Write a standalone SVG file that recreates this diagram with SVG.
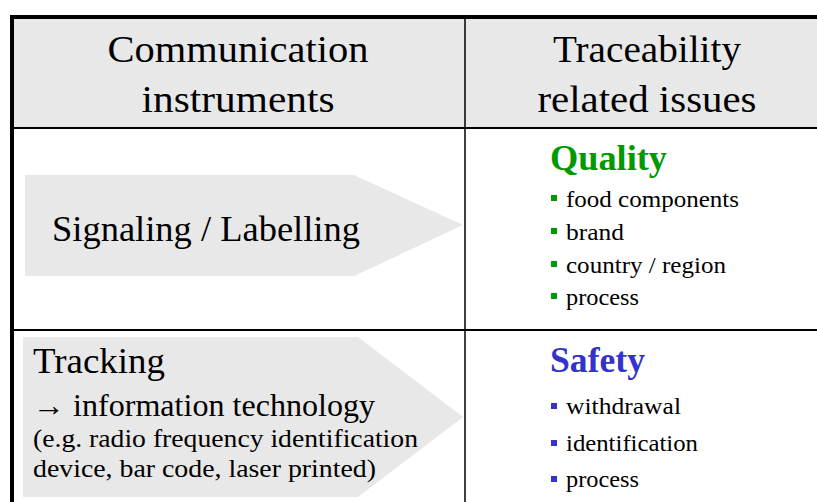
<svg xmlns="http://www.w3.org/2000/svg" width="817" height="502" viewBox="0 0 817 502">
<style>
text{font-family:"Liberation Serif","DejaVu Serif",serif;fill:#000}
.hd{font-size:38px}
.big{font-size:35px}
.it{font-size:23px}
.sh{fill:#e8e8e8}
.ln{stroke:#000;fill:none}
</style>
<rect x="0" y="0" width="817" height="502" fill="#fff"/>
<rect x="12" y="17" width="805" height="111" fill="#e8e8e8"/>
<g id="table">
<line class="ln" x1="10" y1="17" x2="817" y2="17" stroke-width="4"/>
<line class="ln" x1="12" y1="15" x2="12" y2="502" stroke-width="4"/>
<line class="ln" x1="12" y1="128" x2="817" y2="128" stroke-width="2"/>
<line class="ln" x1="12" y1="330" x2="817" y2="330" stroke-width="2"/>
<line class="ln" x1="465" y1="17" x2="465" y2="502" stroke-width="1.5"/>
</g>
<g id="header">
<text class="hd" x="238" y="62" text-anchor="middle" textLength="261" lengthAdjust="spacingAndGlyphs">Communication</text>
<text class="hd" x="238" y="112" text-anchor="middle" textLength="193" lengthAdjust="spacingAndGlyphs">instruments</text>
<text class="hd" x="647" y="62" text-anchor="middle" textLength="188" lengthAdjust="spacingAndGlyphs">Traceability</text>
<text class="hd" x="647" y="112" text-anchor="middle" textLength="219" lengthAdjust="spacingAndGlyphs">related issues</text>
</g>
<g id="signaling">
<polygon class="sh" points="25,175 354,175 463,225 354,276 25,276"/>
<text class="big" x="52" y="241" textLength="308" lengthAdjust="spacingAndGlyphs">Signaling / Labelling</text>
</g>
<g id="tracking">
<polygon class="sh" points="23,337 358,337 463,417 358,497 23,497"/>
<text class="big" x="33" y="373" textLength="132" lengthAdjust="spacingAndGlyphs">Tracking</text>
<text x="33" y="416" font-size="31" textLength="342" lengthAdjust="spacingAndGlyphs">→ information technology</text>
<text x="33" y="447" font-size="26" textLength="385" lengthAdjust="spacingAndGlyphs">(e.g. radio frequency identification</text>
<text x="33" y="477" font-size="26" textLength="343" lengthAdjust="spacingAndGlyphs">device, bar code, laser printed)</text>
</g>
<g id="quality">
<text x="550" y="170" font-size="35" font-weight="bold" style="fill:#009900" textLength="117" lengthAdjust="spacingAndGlyphs">Quality</text>
<g fill="#009900">
<rect x="551" y="195" width="6" height="6"/>
<rect x="551" y="228" width="6" height="6"/>
<rect x="551" y="261" width="6" height="6"/>
<rect x="551" y="293" width="6" height="6"/>
</g>
<text class="it" x="566" y="207" textLength="173" lengthAdjust="spacingAndGlyphs">food components</text>
<text class="it" x="566" y="240" textLength="58" lengthAdjust="spacingAndGlyphs">brand</text>
<text class="it" x="566" y="273" textLength="160" lengthAdjust="spacingAndGlyphs">country / region</text>
<text class="it" x="566" y="305" textLength="73" lengthAdjust="spacingAndGlyphs">process</text>
</g>
<g id="safety">
<text x="550" y="372" font-size="35" font-weight="bold" style="fill:#3333cc" textLength="95" lengthAdjust="spacingAndGlyphs">Safety</text>
<g fill="#3333cc">
<rect x="551" y="403" width="6" height="6"/>
<rect x="551" y="440" width="6" height="6"/>
<rect x="551" y="476" width="6" height="6"/>
</g>
<text class="it" x="566" y="414" textLength="115" lengthAdjust="spacingAndGlyphs">withdrawal</text>
<text class="it" x="566" y="451" textLength="132" lengthAdjust="spacingAndGlyphs">identification</text>
<text class="it" x="566" y="487" textLength="73" lengthAdjust="spacingAndGlyphs">process</text>
</g>
</svg>
